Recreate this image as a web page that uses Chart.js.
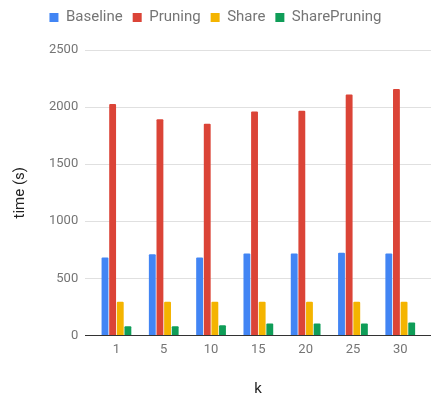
<!DOCTYPE html>
<html>
<head>
<meta charset="utf-8">
<script src="https://cdn.jsdelivr.net/npm/chart.js@4/dist/chart.umd.min.js"></script>
<style>
    html, body { margin: 0; padding: 0; background: #fff; }
    #wrap { width: 431px; height: 394px; }
</style>
</head>
<body>
<div id="wrap"><canvas id="chart"></canvas></div>
<script>
// valores de k y tiempos medidos (s)
const kLabels = ['1', '5', '10', '15', '20', '25', '30'];
const baseline = [682, 710, 682, 718, 718, 724, 718];
const pruning = [2027, 1893, 1854, 1961, 1967, 2111, 2158];
const share = [295, 295, 295, 295, 295, 295, 295];
const sharePruning = [81, 81, 90, 105, 105, 105, 114];
const yTicks = [0, 500, 1000, 1500, 2000, 2500];

const colors = {
    baseline: '#4285F4',
    pruning: '#DB4437',
    share: '#F4B400',
    sharePruning: '#0F9D58'
};

// eje x lineal para dejar margen a los lados de los grupos
const toPoints = values => values.map((v, i) => ({ x: i, y: v }));

// separar la leyenda del área del gráfico
const legendMargin = {
    id: 'legendMargin',
    beforeInit(chart) {
        const fit = chart.legend.fit;
        chart.legend.fit = function () {
            fit.bind(chart.legend)();
            this.height += 15;
        };
    }
};

function makeDataset(label, values, color) {
    return {
        label: label,
        data: toPoints(values),
        backgroundColor: color,
        borderWidth: 0,
        borderRadius: 1,
        categoryPercentage: 0.645,
        barPercentage: 0.9
    };
}

const ctx = document.getElementById('chart');
new Chart(ctx, {
    type: 'bar',
    data: {
        datasets: [
            makeDataset('Baseline', baseline, colors.baseline),
            makeDataset('Pruning', pruning, colors.pruning),
            makeDataset('Share', share, colors.share),
            makeDataset('SharePruning', sharePruning, colors.sharePruning)
        ]
    },
    plugins: [legendMargin],
    options: {
        responsive: true,
        maintainAspectRatio: false,
        animation: false,
        layout: { padding: { left: 0, right: 0, top: 0, bottom: 0 } },
        plugins: {
            legend: {
                position: 'top',
                labels: {
                    boxWidth: 9,
                    boxHeight: 9,
                    padding: 10,
                    color: '#757575',
                    font: { family: 'Roboto', size: 15 }
                }
            },
            tooltip: { enabled: false }
        },
        scales: {
            x: {
                type: 'linear',
                offset: false,
                min: -0.66,
                max: 6.65,
                afterBuildTicks: axis => {
                    axis.ticks = kLabels.map((_, i) => ({ value: i }));
                },
                ticks: {
                    callback: value => kLabels[value],
                    color: '#757575',
                    padding: 7,
                    maxRotation: 0,
                    autoSkip: false,
                    font: { family: 'Roboto', size: 13 }
                },
                grid: { display: false, drawTicks: false, offset: false },
                border: { display: true, color: '#333333', width: 1 },
                title: {
                    display: true,
                    text: 'k',
                    color: '#222222',
                    font: { family: 'Roboto', size: 15, lineHeight: 0.6 },
                    padding: { top: 20, bottom: 0 }
                }
            },
            y: {
                min: 0,
                max: 2500,
                afterBuildTicks: axis => {
                    axis.ticks = yTicks.map(v => ({ value: v }));
                },
                ticks: {
                    callback: value => String(value),
                    color: '#757575',
                    padding: 7,
                    font: { family: 'Roboto', size: 13 }
                },
                grid: {
                    color: '#e0e0e0',
                    drawTicks: false
                },
                border: { display: false },
                title: {
                    display: true,
                    text: 'time (s)',
                    color: '#222222',
                    font: { family: 'Roboto', size: 15, lineHeight: 1 },
                    padding: { top: 13, bottom: 14 }
                }
            }
        }
    }
});
</script>
</body>
</html>
